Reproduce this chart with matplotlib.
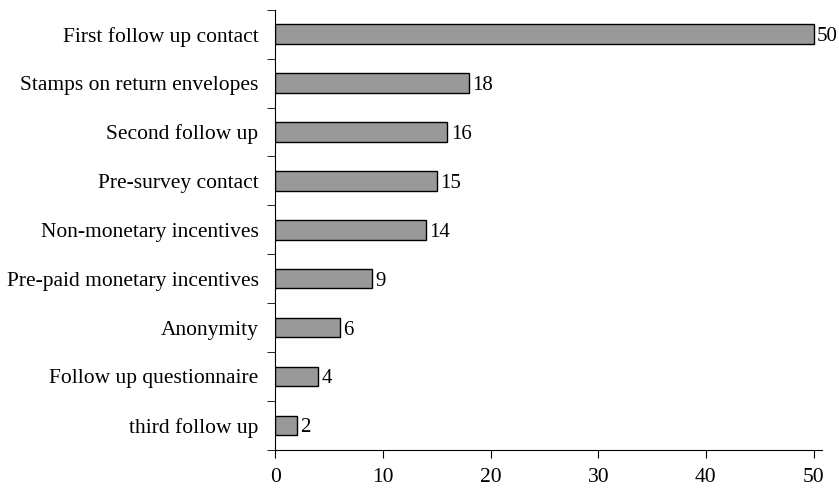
import numpy as np
import matplotlib.pyplot as plt

categories = ["First follow up contact", "Stamps on return envelopes", "Second follow up",
              "Pre-survey contact", "Non-monetary incentives", "Pre-paid monetary incentives",
              "Anonymity", "Follow up questionnaire", "third follow up"]
values = [50, 18, 16, 15, 14, 9, 6, 4, 2]

plt.rcParams['font.family'] = ['Liberation Serif', 'DejaVu Serif']
plt.rcParams['font.size'] = 15.5

fig = plt.figure(figsize=(8.39, 4.9), dpi=100)
ax = fig.add_axes([0.328, 0.082, 0.652, 0.898])

y = np.arange(len(categories))[::-1]
ax.barh(y, values, height=0.4, color='#999999', edgecolor='black', linewidth=1)
for yi, v in zip(y, values):
    ax.text(v + 0.3, yi, str(v), va='center_baseline', ha='left', fontsize=15)

ax.set_ylim(-0.5, len(categories) - 0.5)
ax.set_xlim(0, 50.8)
ax.set_yticks(y)
ax.set_yticklabels(categories)
ax.tick_params(axis='y', which='major', length=0, pad=12)
ax.set_yticks(np.arange(len(categories) + 1) - 0.5, minor=True)
ax.tick_params(axis='y', which='minor', length=6, direction='out')
ax.set_xticks([0, 10, 20, 30, 40, 50])
ax.tick_params(axis='x', length=6, direction='out', pad=7)
ax.spines['top'].set_visible(False)
ax.spines['right'].set_visible(False)

plt.savefig('out.png', dpi=100)
